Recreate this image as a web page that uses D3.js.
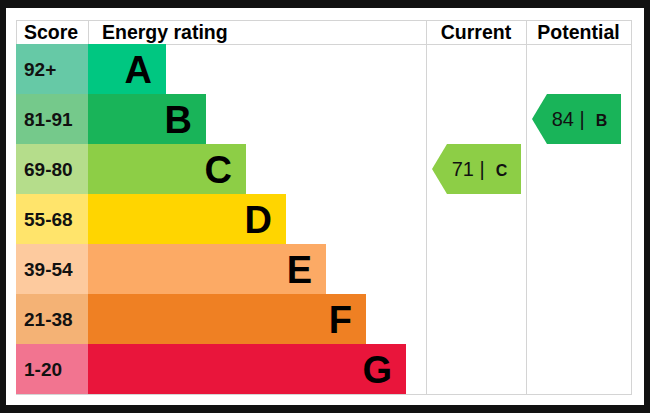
<!DOCTYPE html>
<html><head><meta charset="utf-8">
<script src="https://cdn.jsdelivr.net/npm/d3@7"></script>
<style>
html,body{margin:0;padding:0;background:#111111;}
svg{display:block;}
text{font-family:"Liberation Sans",Arial,sans-serif;}
</style></head>
<body><svg id="c" width="650" height="413"></svg>
<script>
const bands = ["A","B","C","D","E","F","G"];
const scoreLabels = ["92+","81-91","69-80","55-68","39-54","21-38","1-20"];
const barColors = ["#00c781","#19b459","#8dce46","#ffd500","#fcaa65","#ef8023","#e9153b"];
const scoreColors = ["#66c9a6","#75c98b","#b5dd8b","#ffe46b","#fdca9e","#f4b275","#f27490"];
const headers = ["Score","Energy rating","Current","Potential"];
const currentValue = 71, currentBand = "C";
const potentialValue = 84, potentialBand = "B";

(function(){
const svg = d3.select("#c");
svg.append("rect").attr("x",6).attr("y",8).attr("width",638).attr("height",397).attr("fill","#ffffff");

const tLeft = 16, tTop = 20, tRight = 631, tBottom = 394, headH = 24;
const scoreW = 88, curL = 426, potL = 526;
const y = d3.scaleBand().domain(bands).range([tTop+headH, tBottom]);
const xEnd = d3.scaleLinear().domain([0, bands.length-1]).range([166, 406]);

const grid = "#d4d4d4";
svg.append("rect").attr("x",tLeft+0.5).attr("y",tTop+0.5).attr("width",tRight-tLeft).attr("height",tBottom-tTop).attr("fill","none").attr("stroke",grid);
svg.append("line").attr("x1",tLeft).attr("x2",tRight).attr("y1",tTop+headH+0.5).attr("y2",tTop+headH+0.5).attr("stroke",grid);
[scoreW, curL, potL].forEach(x=>{
  svg.append("line").attr("x1",x+0.5).attr("x2",x+0.5).attr("y1",tTop).attr("y2",tBottom).attr("stroke",grid);
});

svg.selectAll("rect.score").data(bands).join("rect").attr("class","score")
  .attr("x",tLeft).attr("y",d=>y(d)).attr("width",scoreW-tLeft).attr("height",y.bandwidth())
  .attr("fill",(d,i)=>scoreColors[i]);
svg.selectAll("text.score").data(bands).join("text").attr("class","score")
  .attr("x",tLeft+8).attr("y",d=>y(d)+y.bandwidth()/2+7)
  .attr("font-size",19).attr("font-weight","bold").attr("fill","#111")
  .text((d,i)=>scoreLabels[i]);

svg.selectAll("rect.bar").data(bands).join("rect").attr("class","bar")
  .attr("x",scoreW).attr("y",d=>y(d)).attr("width",(d,i)=>xEnd(i)-scoreW).attr("height",y.bandwidth())
  .attr("fill",(d,i)=>barColors[i]);
svg.selectAll("text.bar").data(bands).join("text").attr("class","bar")
  .attr("x",(d,i)=>xEnd(i)-14).attr("y",d=>y(d)+y.bandwidth()/2+14)
  .attr("text-anchor","end").attr("font-size",38).attr("font-weight","bold").attr("fill","#000")
  .text(d=>d);

const hy = tTop+19;
svg.append("text").attr("x",tLeft+8).attr("y",hy).attr("font-size",19.5).attr("font-weight","bold").text(headers[0]);
svg.append("text").attr("x",scoreW+14).attr("y",hy).attr("font-size",19.5).attr("font-weight","bold").text(headers[1]);
svg.append("text").attr("x",(curL+potL)/2).attr("y",hy).attr("text-anchor","middle").attr("font-size",19.5).attr("font-weight","bold").text(headers[2]);
svg.append("text").attr("x",(potL+tRight)/2).attr("y",hy).attr("text-anchor","middle").attr("font-size",19.5).attr("font-weight","bold").text(headers[3]);

function arrow(colL, value, band){
  const i = bands.indexOf(band);
  const y0 = y(band), h = y.bandwidth();
  const tip = colL+6, notch = colL+21, rx = colL+95;
  svg.append("path")
    .attr("d",`M${tip},${y0+h/2} L${notch},${y0} L${rx},${y0} L${rx},${y0+h} L${notch},${y0+h} Z`)
    .attr("fill",barColors[i]);
  const t = svg.append("text").attr("x",(tip+rx)/2+3).attr("y",y0+h/2+7).attr("text-anchor","middle").attr("fill","#111");
  t.append("tspan").attr("font-size",20).text(value + " |\u00a0\u00a0");
  t.append("tspan").attr("font-size",16).attr("font-weight","bold").text(band);
}
arrow(curL, currentValue, currentBand);
arrow(potL, potentialValue, potentialBand);
})();
</script></body></html>
